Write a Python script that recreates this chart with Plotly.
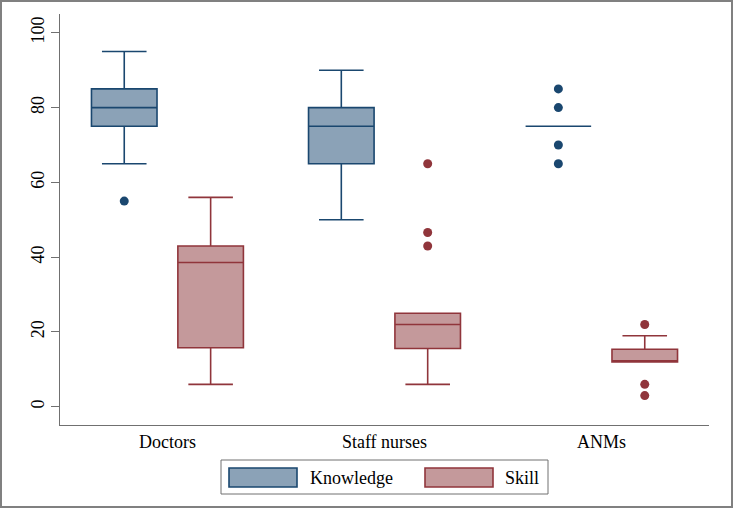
import plotly.graph_objects as go

# ---------------- data ----------------
categories = ["Doctors", "Staff nurses", "ANMs"]

knowledge_lower = [65, 50, 75]
knowledge_q1 = [75, 65, 75]
knowledge_median = [80, 75, 75]
knowledge_q3 = [85, 80, 75]
knowledge_upper = [95, 90, 75]
knowledge_outliers = [[55], [], [65, 70, 80, 85]]

skill_lower = [6, 6, 12]
skill_q1 = [15.8, 15.6, 12]
skill_median = [38.6, 22, 12]
skill_q3 = [43, 25, 15.4]
skill_upper = [56, 25, 19]
skill_outliers = [[], [43, 46.6, 65], [3, 6, 22]]

y_ticks = [0, 20, 40, 60, 80, 100]
series_names = ["Knowledge", "Skill"]

# ---------------- style ----------------
W, H = 733, 508
ML, MR, MT, MB = 60, 24, 14, 83
FONT = "Liberation Serif"
FS = 18
K_LINE, K_FILL = "#1a476f", "#8ba2b7"
S_LINE, S_FILL = "#90353b", "#c4999b"
AXIS = "#707070"
OFFSET = 0.199
BOXW = 0.302

pw = W - ML - MR
ph = H - MT - MB


def px_x(p):
    return (p - ML) / pw


def px_y(p):
    return (H - MB - p) / ph


fig = go.Figure()

series = [
    (series_names[0], -OFFSET, knowledge_lower, knowledge_q1, knowledge_median,
     knowledge_q3, knowledge_upper, knowledge_outliers, K_LINE, K_FILL),
    (series_names[1], OFFSET, skill_lower, skill_q1, skill_median,
     skill_q3, skill_upper, skill_outliers, S_LINE, S_FILL),
]

for name, off, lo, q1, med, q3, up, outs, lc, fc in series:
    xs = [i + off for i in range(len(categories))]
    fig.add_trace(go.Box(
        name=name, x=xs, q1=q1, median=med, q3=q3,
        lowerfence=lo, upperfence=up, width=BOXW, whiskerwidth=0.68,
        boxpoints=False, line=dict(color=lc, width=1.6), fillcolor=fc,
        showlegend=False, hoverinfo="skip",
    ))
    ox, oy = [], []
    for i, vals in enumerate(outs):
        for v in vals:
            ox.append(i + off)
            oy.append(v)
    fig.add_trace(go.Scatter(
        x=ox, y=oy, mode="markers", showlegend=False, hoverinfo="skip",
        marker=dict(color=lc, size=9, line=dict(width=0)),
    ))

# ---------------- manual legend ----------------
shapes = []
annotations = []
shapes.append(dict(type="rect", xref="paper", yref="paper",
                   x0=px_x(221), x1=px_x(548), y0=px_y(494), y1=px_y(460),
                   line=dict(color=AXIS, width=1), fillcolor="white", layer="above"))
legend_items = [(series_names[0], 229, 308, K_LINE, K_FILL),
                (series_names[1], 425, 503, S_LINE, S_FILL)]
for name, sx, tx, lc, fc in legend_items:
    shapes.append(dict(type="rect", xref="paper", yref="paper",
                       x0=px_x(sx), x1=px_x(sx + 68), y0=px_y(487), y1=px_y(468),
                       line=dict(color=lc, width=1.6), fillcolor=fc, layer="above"))
    annotations.append(dict(text=name, xref="paper", yref="paper",
                            x=px_x(tx), y=px_y(478), xanchor="left", yanchor="middle",
                            showarrow=False, font=dict(family=FONT, size=FS, color="black")))
# outer frame
shapes.append(dict(type="rect", xref="paper", yref="paper",
                   x0=px_x(1), x1=px_x(732), y0=px_y(507), y1=px_y(1),
                   line=dict(color="#808080", width=2), layer="above"))

fig.update_layout(
    width=W, height=H,
    margin=dict(l=ML, r=MR, t=MT, b=MB, pad=0),
    paper_bgcolor="white", plot_bgcolor="white",
    font=dict(family=FONT, size=FS, color="black"),
    shapes=shapes, annotations=annotations,
    showlegend=False,
)
fig.update_xaxes(
    range=[-0.495, 2.495], tickmode="array",
    tickvals=list(range(len(categories))), ticktext=categories,
    showline=True, linecolor=AXIS, linewidth=1, ticks="",
    showgrid=False, zeroline=False,
    tickfont=dict(family=FONT, size=FS, color="black"),
)
fig.update_yaxes(
    range=[-4.87, 105.03], tickmode="array", tickvals=y_ticks,
    tickangle=-90, ticks="outside", ticklen=8, tickcolor=AXIS, tickwidth=1,
    showline=True, linecolor=AXIS, linewidth=1,
    showgrid=False, zeroline=False,
    tickfont=dict(family=FONT, size=FS, color="black"),
)

fig.write_html("out.html",
               config={"displayModeBar": False},
               post_script="document.body.style.margin='0';document.body.style.overflow='hidden';")
